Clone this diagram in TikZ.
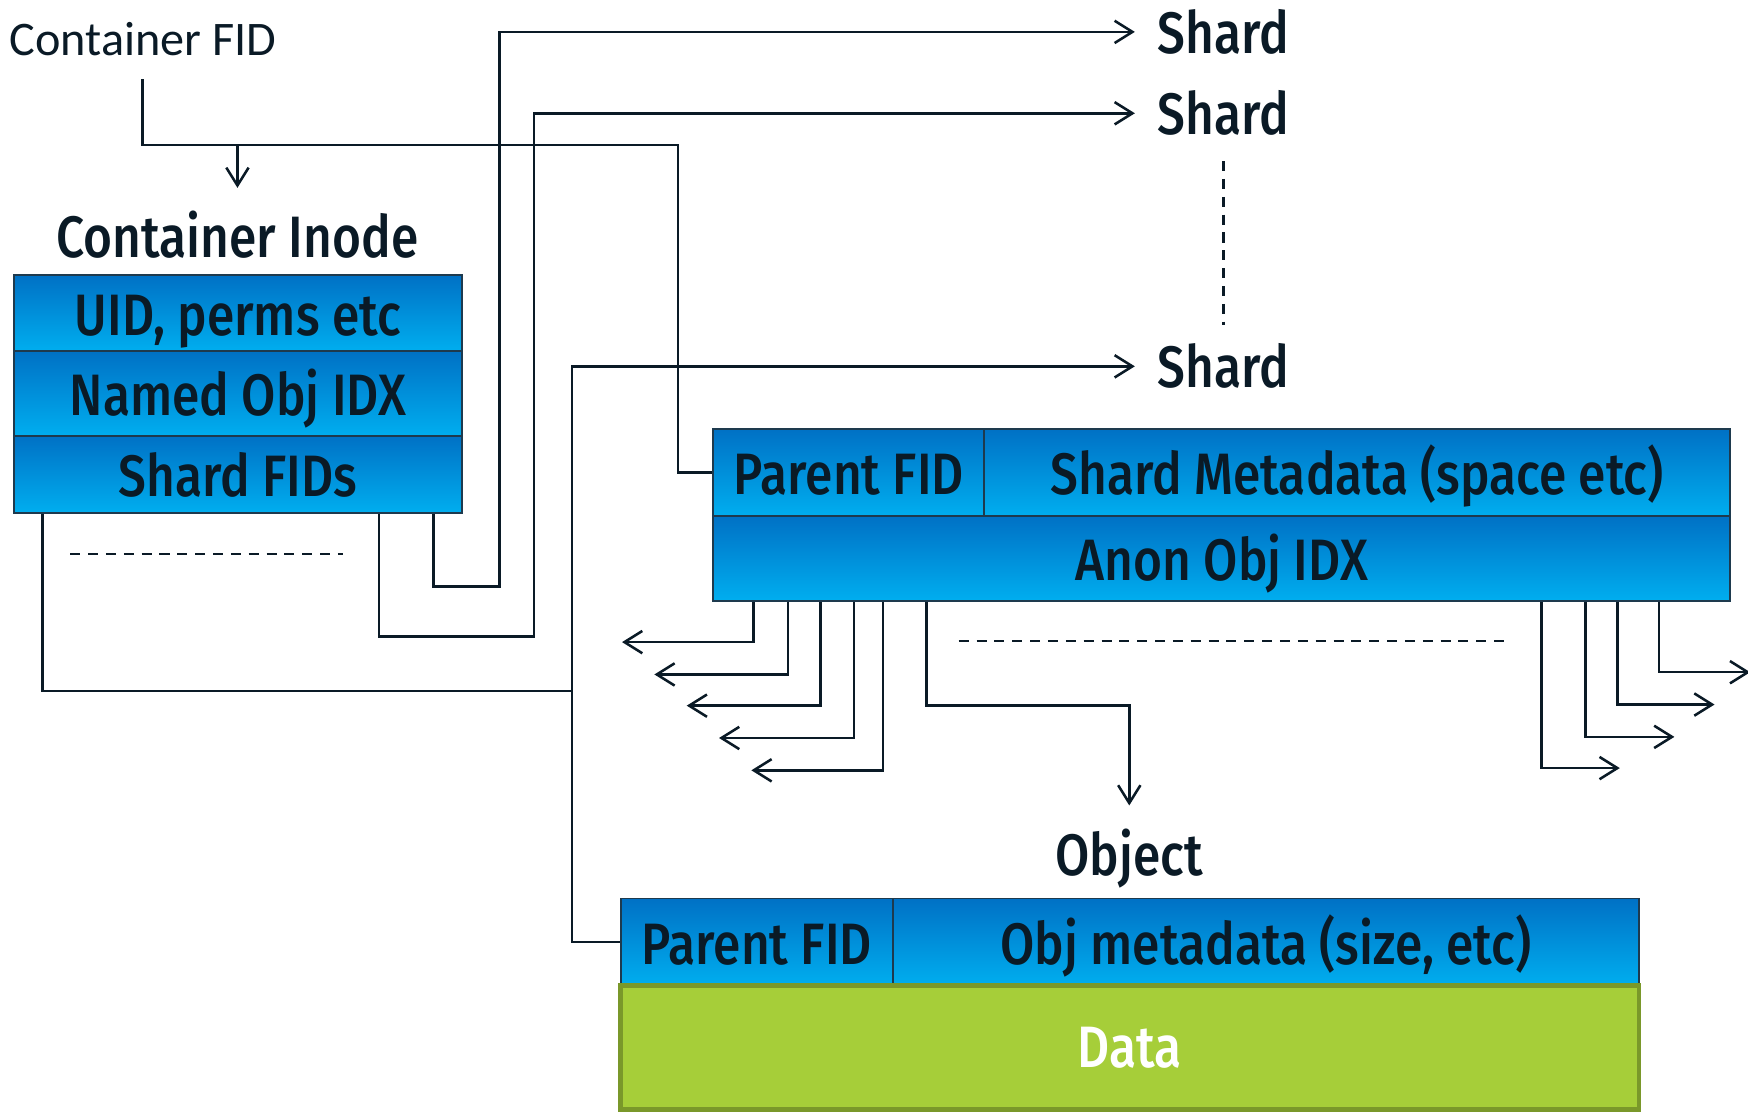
\documentclass[tikz,border=0pt]{standalone}
\usepackage{fontspec}
\newfontfamily\labelfont[FakeStretch=0.85]{Fira Sans Medium}
\newfontfamily\fidfont{Carlito}
\usetikzlibrary{arrows.meta}
\definecolor{ink}{RGB}{10,26,38}
\definecolor{celltop}{RGB}{0,113,197}
\definecolor{cellbot}{RGB}{0,174,239}
\definecolor{celledge}{RGB}{30,58,78}
\definecolor{datafill}{RGB}{166,206,57}
\definecolor{dataedge}{RGB}{122,152,42}

\begin{document}
\begin{tikzpicture}[x=0.01cm, y=-0.01cm, >={Straight Barb[length=0.16cm,width=0.2cm]},
    conn/.style={draw=ink, line width=0.65pt},
    dots/.style={draw=ink, line width=0.65pt, dash pattern=on 0.09cm off 0.07cm},
    lbl/.style={text=ink, font={\labelfont\fontsize{14.9pt}{16pt}\selectfont}},
    title/.style={lbl, anchor=base, inner xsep=0pt, inner ysep=0.2cm},
    shard/.style={lbl, anchor=base west, inner xsep=0.2cm, inner ysep=0pt},
    cell/.style={lbl, draw=celledge, line width=0.5pt, top color=celltop,
        bottom color=cellbot, inner sep=0pt, text height=0.5cm, text depth=0.1cm}]
	%\draw [thin, help lines] (0,0) grid[step=100] (1568,997);
	\useasboundingbox (0,0) rectangle (1568,997);

	% container inode
	\node[anchor=base west, inner sep=0pt, text=ink, font={\fidfont\fontsize{12.3pt}{14pt}\selectfont}] (cfid) at (8,50) {Container FID};
	\node[title] (ittl) at (213,231) {Container Inode};
	\node[cell, minimum width=4.01cm, minimum height=0.68cm] (uid) at (213.5,281) {UID, perms etc};
	\node[cell, minimum width=4.01cm, minimum height=0.76cm] (named) at (213.5,353) {Named Obj IDX};
	\node[cell, minimum width=4.01cm, minimum height=0.69cm] (fids) at (213.5,425.5) {Shard FIDs};

	% shards
	\node[shard] (s1) at (1018,48) {Shard};
	\node[shard] (s2) at (1018,121) {Shard};
	\node[shard] (s3) at (1018,348) {Shard};
	\draw[dots, shorten <=0.22cm, shorten >=0.16cm] (s2.south) -- (s3.north);

	% shard inode
	\node[cell, minimum width=2.43cm, minimum height=0.78cm] (spfid) at (761.5,424) {Parent FID};
	\node[cell, minimum width=6.69cm, minimum height=0.78cm] (smeta) at (1217.5,424) {Shard Metadata (space etc)};
	\node[cell, minimum width=9.12cm, minimum height=0.76cm] (anon) at (1096,501) {Anon Obj IDX};

	% object
	\node[title] (ottl) at (1013,785) {Object};
	\node[cell, minimum width=2.44cm, minimum height=0.78cm] (opfid) at (679,845) {Parent FID};
	\node[cell, minimum width=6.69cm, minimum height=0.78cm] (ometa) at (1135.5,845) {Obj metadata (size, etc)};
	\node[lbl, draw=dataedge, line width=1.2pt, fill=datafill, text=white, inner sep=0pt,
		minimum width=9.13cm, minimum height=1.11cm] (data) at (1013.5,939.5) {Data};

	% container FID lookup
	\coordinate (fidtap) at (213,130);
	\draw[conn] (cfid.south -| 128,0) ++(0,20) |- (fidtap);
	\draw[conn, ->] (fidtap) -- (ittl.north);
	\draw[conn] (fidtap) -| ([xshift=-0.31cm]spfid.west) -- (spfid.west);

	% shard FIDs
	\draw[dots] (63,497) -- (308,497);
	\draw[conn, ->] (fids.south -| 389,0) |- (448,526) |- (s1.west);
	\draw[conn, ->] (fids.south -| 340,0) |- (479,571) |- (s2.west);
	\draw[conn, ->] (fids.south -| 38,0) |- (513,620) |- (s3.west);
	\draw[conn] (513,620) |- (opfid.west);

	% anon obj index entries
	\draw[dots] (860,575) -- (1355,575);
	\foreach \x/\y/\e in {676/576/558, 707/605/587, 736/633/616, 766/662/645, 792/691/674,
		1383/689/1453, 1422/661/1502, 1451/632/1538, 1488/603/1570} {
		\coordinate (e\x) at (\e,\y);
		\draw[conn, ->] (anon.south -| \x,0) |- (e\x);
	}
	\draw[conn, ->] (anon.south -| 831,0) -- ++(0,93) -| (ottl.north);
\end{tikzpicture}
\end{document}
